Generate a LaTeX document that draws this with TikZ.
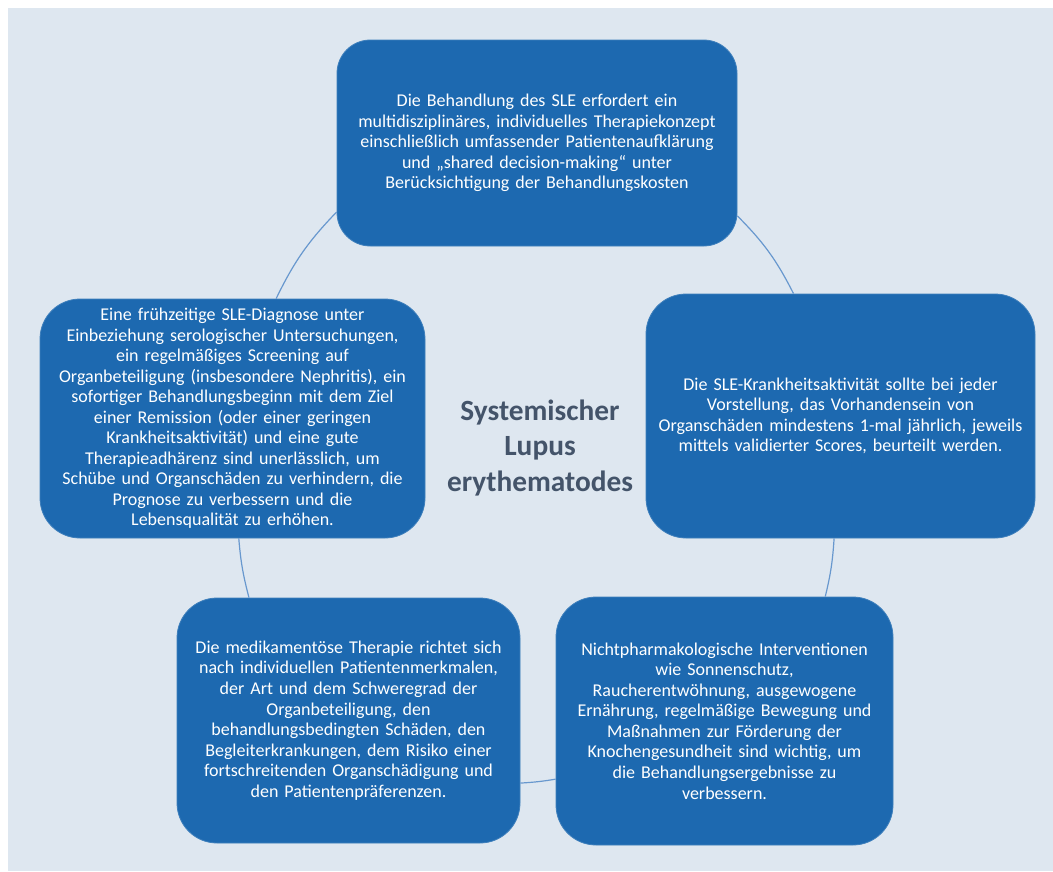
\documentclass[tikz,border=0pt]{standalone}
\usepackage{fontspec}
\setmainfont{Carlito}
\usetikzlibrary{positioning}
\definecolor{boxblue}{RGB}{29,105,176}
\definecolor{bgblue}{RGB}{222,231,240}
\definecolor{arcblue}{RGB}{104,152,206}
\definecolor{titlegray}{RGB}{68,84,106}
\tikzset{
  cyclebox/.style={rectangle, fill=boxblue, draw=boxblue!85!white,
    line width=0.6pt, text=white, align=center, inner sep=0pt,
    rounded corners=30pt, font=\fontsize{13.5}{15.4}\selectfont},
  cyclearc/.style={draw=arcblue, line width=0.9pt},
  centretitle/.style={font=\fontsize{22}{26.6}\selectfont\bfseries,
    text=titlegray, align=center}
}
\begin{document}
\begin{tikzpicture}[x=0.75pt, y=-0.75pt]
  % background
  \fill[white] (0,0) rectangle (1053,871);
  \fill[bgblue] (8,8) rectangle (1053,871);
  \useasboundingbox (0,0) rectangle (1053,871);

  % the five statements
  \node[cyclebox, minimum width=300pt, minimum height=154.5pt, text width=295pt,
    rounded corners=25pt] (top) at (537,143)
    {Die Behandlung des SLE erfordert ein\\
     multidisziplinäres, individuelles Therapiekonzept\\
     einschließlich umfassender Patientenaufklärung\\
     und „shared decision-making“ unter\\
     Berücksichtigung der Behandlungskosten};
  \node[cyclebox, minimum width=291.75pt, minimum height=183pt, text width=288pt] (right) at (840.5,416)
    {Die SLE-Krankheitsaktivität sollte bei jeder\\
     Vorstellung, das Vorhandensein von\\
     Organschäden mindestens 1-mal jährlich, jeweils\\
     mittels validierter Scores, beurteilt werden.};
  \node[cyclebox, minimum width=257.25pt, minimum height=183.75pt, text width=254pt] (bl) at (348.5,720.5)
    {Die medikamentöse Therapie richtet sich\\
     nach individuellen Patientenmerkmalen,\\
     der Art und dem Schweregrad der\\
     Organbeteiligung, den\\
     behandlungsbedingten Schäden, den\\
     Begleiterkrankungen, dem Risiko einer\\
     fortschreitenden Organschädigung und\\
     den Patientenpräferenzen.};
  \node[cyclebox, minimum width=252.75pt, minimum height=186pt, text width=250pt] (br) at (724.5,721)
    {Nichtpharmakologische Interventionen\\
     wie Sonnenschutz,\\
     Raucherentwöhnung, ausgewogene\\
     Ernährung, regelmäßige Bewegung und\\
     Maßnahmen zur Förderung der\\
     Knochengesundheit sind wichtig, um\\
     die Behandlungsergebnisse zu\\
     verbessern.};
  \node[cyclebox, minimum width=288.75pt, minimum height=179.25pt, text width=285pt] (left) at (232.5,418.5)
    {Eine frühzeitige SLE-Diagnose unter\\
     Einbeziehung serologischer Untersuchungen,\\
     ein regelmäßiges Screening auf\\
     Organbeteiligung (insbesondere Nephritis), ein\\
     sofortiger Behandlungsbeginn mit dem Ziel\\
     einer Remission (oder einer geringen\\
     Krankheitsaktivität) und eine gute\\
     Therapieadhärenz sind unerlässlich, um\\
     Schübe und Organschäden zu verhindern, die\\
     Prognose zu verbessern und die\\
     Lebensqualität zu erhöhen.};

  % centre label
  \node[centretitle] (sle) at (540,448) {Systemischer\\Lupus\\erythematodes};

  % cycle arcs
  \draw[cyclearc] (top.340.5) to[bend left=9] (right.111);
  \draw[cyclearc] (right.267) to[bend left=5] (br.51);
  \draw[cyclearc] (br.199.6) to[bend left=3] (bl.340.6);
  \draw[cyclearc] (bl.129.6) to[bend left=5] (left.273);
  \draw[cyclearc] (left.70) to[bend left=9] (top.199.5);
\end{tikzpicture}
\end{document}
